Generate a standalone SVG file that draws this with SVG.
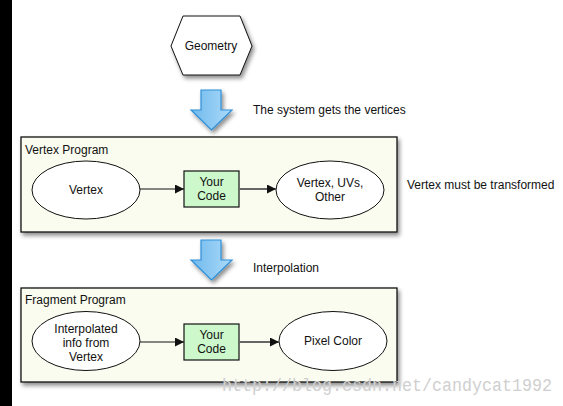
<svg xmlns="http://www.w3.org/2000/svg" width="563" height="406" viewBox="0 0 563 406">
<defs>
<style>
text{font-family:"Liberation Sans",Arial,sans-serif;font-size:12px;fill:#111;}
.c{text-anchor:middle;}
.box{fill:#f9fcef;stroke:#111;stroke-width:1.3;}
.ell{fill:#fff;stroke:#111;stroke-width:1;}
.code{fill:#ccf8cc;stroke:#111;stroke-width:1.2;}
.blk{stroke:#111;stroke-width:1.2;fill:none;}
.gry{stroke:#666;stroke-width:2;fill:none;}
.big{fill:url(#bg);stroke:#2f8fd8;stroke-width:1.2;}
.wm{font-family:"Liberation Mono","DejaVu Sans Mono",monospace;font-size:19px;fill:#cfcfcf;}
</style>
<linearGradient id="bg" x1="0" y1="0" x2="1" y2="0">
<stop offset="0" stop-color="#6fb9ec"/>
<stop offset="1" stop-color="#acdaf9"/>
</linearGradient>
<filter id="sh" x="-10%" y="-10%" width="125%" height="130%">
<feDropShadow dx="2" dy="3" stdDeviation="2" flood-color="#000" flood-opacity="0.45"/>
</filter>
<marker id="ab" viewBox="0 0 10 10" refX="10" refY="5" markerWidth="12" markerHeight="9" markerUnits="userSpaceOnUse" orient="auto">
<path d="M0,0 L10,5 L0,10 z" fill="#111"/>
</marker>
</defs>
<rect x="0" y="0" width="563" height="406" fill="#fff"/>
<rect x="0" y="0" width="12" height="406" fill="#000"/>

<g id="geometry">
<polygon points="171,46 183,16 240,16 252,46 240,75 183,75" fill="#fff" stroke="#111" stroke-width="1" filter="url(#sh)"/>
<text class="c" x="211" y="50">Geometry</text>
</g>

<g id="arrow-down-1">
<polygon class="big" points="201,90 221,90 221,110 232,110 211.5,130 191,110 201,110" filter="url(#sh)"/>
</g>
<g id="label-vertices"><text x="253" y="114">The system gets the vertices</text></g>

<g id="vertex-program">
<rect class="box" x="21" y="137" width="376" height="95" filter="url(#sh)"/>
<text x="25" y="154">Vertex Program</text>
</g>
<g id="vertex">
<ellipse class="ell" cx="86" cy="190" rx="54" ry="29"/>
<text class="c" x="86" y="194">Vertex</text>
</g>
<g id="your-code-1">
<rect class="code" x="184" y="171" width="55" height="36"/>
<text class="c" x="211.5" y="186">Your</text>
<text class="c" x="211.5" y="200">Code</text>
</g>
<g id="vertex-uvs">
<ellipse class="ell" cx="330" cy="190" rx="54" ry="29"/>
<text class="c" x="330" y="187">Vertex, UVs,</text>
<text class="c" x="330" y="201">Other</text>
</g>
<g id="label-transformed"><text x="407" y="189">Vertex must be transformed</text></g>

<g id="arrow-down-2">
<polygon class="big" points="201,240 221,240 221,260 232,260 211.5,280 191,260 201,260" filter="url(#sh)"/>
</g>
<g id="label-interp"><text x="253" y="272">Interpolation</text></g>

<g id="fragment-program">
<rect class="box" x="21" y="288" width="376" height="94" filter="url(#sh)"/>
<text x="25" y="304">Fragment Program</text>
</g>
<g id="interpolated">
<ellipse class="ell" cx="86" cy="341" rx="54" ry="29.5"/>
<text class="c" x="86" y="333">Interpolated</text>
<text class="c" x="86" y="347">info from</text>
<text class="c" x="86" y="361">Vertex</text>
</g>
<g id="your-code-2">
<rect class="code" x="184" y="324" width="55" height="36"/>
<text class="c" x="211.5" y="339">Your</text>
<text class="c" x="211.5" y="353">Code</text>
</g>
<g id="pixel-color">
<ellipse class="ell" cx="333" cy="341" rx="54" ry="29.5"/>
<text class="c" x="333" y="345">Pixel Color</text>
</g>

<g id="connectors">
<line class="blk" x1="140" y1="189" x2="184" y2="189" marker-end="url(#ab)"/>
<line class="gry" x1="239" y1="189" x2="276" y2="189" marker-end="url(#ab)"/>
<line class="blk" x1="140" y1="342" x2="184" y2="342" marker-end="url(#ab)"/>
<line class="gry" x1="239" y1="342" x2="279" y2="342" marker-end="url(#ab)"/>
</g>

<text class="wm" x="222" y="391" textLength="330" lengthAdjust="spacingAndGlyphs">http://blog.csdn.net/candycat1992</text>
</svg>
